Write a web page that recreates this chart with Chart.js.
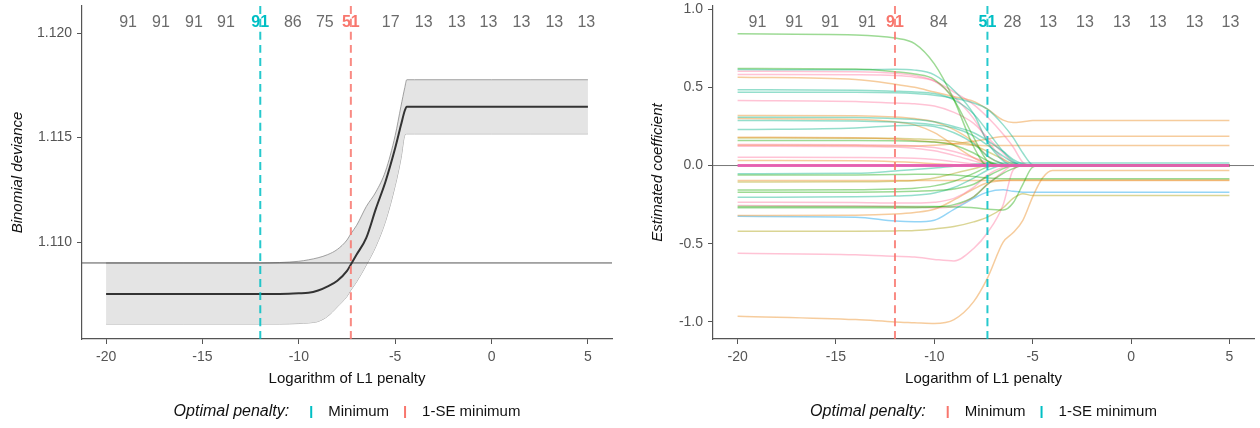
<!DOCTYPE html>
<html>
<head>
<meta charset="utf-8">
<script src="https://cdn.jsdelivr.net/npm/chart.js@4.4.0/dist/chart.umd.min.js"></script>
<style>
  html, body { margin:0; padding:0; background:#fff; }
  #wrap { display:flex; width:1260px; height:428px; }
  canvas { display:block; }
</style>
</head>
<body>
<div id="wrap">
  <canvas id="cv-dev" width="630" height="428"></canvas>
  <canvas id="cv-coef" width="630" height="428"></canvas>
</div>
<script>
/* ================================================================
   Lasso cross-validation: deviance curve (left) and
   coefficient paths (right), ggplot-ish look in Chart.js.
   ================================================================ */

'use strict';

const FONT   = "'Liberation Sans', Arial, sans-serif";
const CYAN   = '#00BFC4';
const SALMON = '#F8766D';

// ---- left panel: binomial deviance ----
const devLogLambda = [-20, -16, -12, -11, -10, -9.5, -9, -8.5, -8, -7.5, -7.3, -7, -6.5, -6, -5.5, -5, -4.7, -4.5, -4.4, -4, -2, 0, 2, 5];
const devMean  = [1.10751, 1.10751, 1.10751, 1.10752, 1.10755, 1.10757, 1.10768, 1.10788, 1.10815, 1.10862, 1.10893, 1.1094, 1.1102, 1.1116, 1.1129, 1.1145, 1.1156, 1.1163, 1.11648, 1.11648, 1.11648, 1.11648, 1.11648, 1.11648];
const devUpper = [1.1090, 1.1090, 1.1090, 1.10902, 1.10908, 1.10915, 1.10925, 1.10940, 1.10965, 1.1101, 1.1104, 1.1108, 1.1117, 1.1124, 1.1134, 1.1151, 1.1165, 1.1174, 1.11777, 1.11777, 1.11777, 1.11777, 1.11777, 1.11777];
const devLower = [1.10608, 1.10608, 1.10608, 1.10608, 1.10610, 1.10613, 1.10620, 1.10645, 1.1069, 1.1074, 1.1077, 1.1081, 1.1089, 1.1098, 1.1110, 1.1127, 1.1140, 1.11512, 1.11518, 1.11518, 1.11518, 1.11518, 1.11518, 1.11518];
const devSeLine = 1.109;
const devXTicks = [-20, -15, -10, -5, 0, 5];
const devYTicks = [1.110, 1.115, 1.120];
const devCountPos  = [-18.86, -17.15, -15.44, -13.78, -12, -10.31, -8.65, -7.3, -5.23, -3.52, -1.81, -0.16, 1.55, 3.26, 4.92];
const devCountText = ['91', '91', '91', '91', '91', '86', '75', '51', '17', '13', '13', '13', '13', '13', '13'];

// ---- optimal penalties (same for both panels) ----
const lambdaMin  = -12;
const lambdaOneSE = -7.3;

// ---- right panel: coefficient paths ----
const coefLogLambda = [-20, -14, -12, -11, -10, -9, -8, -7.3, -6.5, -6, -5.5, -5, -4.5, -4, 0, 5];
const coefXTicks = [-20, -15, -10, -5, 0, 5];
const coefYTicks = [-1.0, -0.5, 0.0, 0.5, 1.0];
const coefCountPos  = [-18.99, -17.12, -15.29, -13.42, -12, -9.78, -7.3, -6.03, -4.21, -2.34, -0.47, 1.36, 3.23, 5.05];
const coefCountText = ['91', '91', '91', '91', '91', '84', '51', '28', '13', '13', '13', '13', '13', '13'];

const greenPaths = [
  [0.842, 0.835, 0.815, 0.78, 0.65, 0.42, 0.12, 0, 0, 0, 0, 0, 0, 0, 0, 0],
  [0.62, 0.618, 0.60, 0.585, 0.55, 0.42, 0.18, 0.03, 0, 0, 0, 0, 0, 0, 0, 0],
  [0.16, 0.16, 0.158, 0.155, 0.15, 0.13, 0.08, 0.03, 0, 0, 0, 0, 0, 0, 0, 0],
  [-0.06, -0.06, -0.058, -0.056, -0.055, -0.06, -0.07, -0.08, -0.085, -0.085, -0.085, -0.085, -0.085, -0.085, -0.085, -0.085],
  [-0.156, -0.155, -0.15, -0.145, -0.13, -0.10, -0.05, -0.01, 0, 0, 0, 0, 0, 0, 0, 0],
  [-0.17, -0.17, -0.168, -0.165, -0.16, -0.15, -0.12, -0.07, -0.02, 0, 0, 0, 0, 0, 0, 0],
  [-0.262, -0.262, -0.262, -0.262, -0.262, -0.265, -0.27, -0.28, -0.285, -0.24, -0.12, -0.01, 0, 0, 0, 0],
  [-0.27, -0.27, -0.27, -0.27, -0.265, -0.25, -0.20, -0.12, -0.05, -0.02, 0, 0, 0, 0, 0, 0],
];
const tealPaths = [
  [0.614, 0.612, 0.615, 0.61, 0.58, 0.48, 0.33, 0.15, 0.03, 0, 0, 0, 0, 0, 0, 0],
  [0.484, 0.482, 0.475, 0.47, 0.46, 0.42, 0.33, 0.22, 0.09, 0.03, 0, 0, 0, 0, 0, 0],
  [0.469, 0.468, 0.465, 0.46, 0.45, 0.43, 0.40, 0.36, 0.26, 0.18, 0.08, 0.005, 0, 0, 0, 0],
  [0.309, 0.307, 0.30, 0.295, 0.28, 0.25, 0.21, 0.16, 0.09, 0.04, 0.01, 0, 0, 0, 0, 0],
  [0.288, 0.285, 0.278, 0.272, 0.26, 0.24, 0.19, 0.13, 0.06, 0.02, 0, 0, 0, 0, 0, 0],
  [0.23, 0.24, 0.255, 0.258, 0.25, 0.21, 0.14, 0.06, 0.01, 0, 0, 0, 0, 0, 0, 0],
  [-0.053, -0.05, -0.035, -0.025, -0.015, -0.005, 0.008, 0.014, 0.017, 0.017, 0.017, 0.017, 0.017, 0.017, 0.017, 0.017],
  [-0.203, -0.20, -0.195, -0.19, -0.175, -0.14, -0.08, -0.03, 0, 0, 0, 0, 0, 0, 0, 0],
];
const pinkPaths = [
  [0.603, 0.60, 0.59, 0.575, 0.54, 0.44, 0.30, 0.16, 0.04, 0, 0, 0, 0, 0, 0, 0],
  [0.582, 0.58, 0.575, 0.565, 0.54, 0.47, 0.39, 0.31, 0.20, 0.12, 0.02, 0, 0, 0, 0, 0],
  [0.416, 0.41, 0.40, 0.395, 0.38, 0.34, 0.27, 0.18, 0.08, 0.02, 0, 0, 0, 0, 0, 0],
  [0.134, 0.133, 0.13, 0.125, 0.115, 0.09, 0.05, 0.02, 0, 0, 0, 0, 0, 0, 0, 0],
  [0.123, 0.122, 0.118, 0.11, 0.095, 0.065, 0.03, 0.005, 0, 0, 0, 0, 0, 0, 0, 0],
  [0.053, 0.052, 0.05, 0.046, 0.038, 0.025, 0.01, 0, 0, 0, 0, 0, 0, 0, 0, 0],
  [-0.234, -0.236, -0.24, -0.24, -0.235, -0.21, -0.14, -0.06, -0.01, 0, 0, 0, 0, 0, 0, 0],
  [-0.256, -0.258, -0.262, -0.265, -0.27, -0.26, -0.20, -0.12, -0.04, 0, 0, 0, 0, 0, 0, 0],
  [-0.561, -0.57, -0.58, -0.585, -0.60, -0.61, -0.53, -0.43, -0.25, -0.03, 0, 0, 0, 0, 0, 0],
];
const tanPaths = [
  [0.565, 0.55, 0.52, 0.50, 0.47, 0.44, 0.41, 0.36, 0.29, 0.275, 0.28, 0.288, 0.288, 0.288, 0.288, 0.288],
  [0.32, 0.318, 0.31, 0.30, 0.28, 0.23, 0.15, 0.06, 0.01, 0, 0, 0, 0, 0, 0, 0],
  [0.30, 0.295, 0.28, 0.26, 0.21, 0.13, 0.05, 0.01, 0, 0, 0, 0, 0, 0, 0, 0],
  [0.13, 0.128, 0.125, 0.125, 0.13, 0.14, 0.155, 0.17, 0.185, 0.187, 0.187, 0.187, 0.187, 0.187, 0.187, 0.187],
  [0.181, 0.178, 0.17, 0.16, 0.15, 0.14, 0.13, 0.127, 0.128, 0.128, 0.128, 0.128, 0.128, 0.128, 0.128, 0.128],
  [0.032, 0.03, 0.025, 0.02, 0.012, 0.005, 0, 0, 0, 0, 0, 0, 0, 0, 0, 0],
  [-0.096, -0.096, -0.096, -0.096, -0.095, -0.095, -0.096, -0.096, -0.096, -0.096, -0.096, -0.096, -0.096, -0.096, -0.096, -0.096],
  [-0.32, -0.318, -0.31, -0.30, -0.28, -0.22, -0.15, -0.11, -0.095, -0.092, -0.092, -0.092, -0.092, -0.092, -0.092, -0.092],
  [-0.963, -0.985, -1.0, -1.005, -1.01, -0.985, -0.87, -0.72, -0.49, -0.43, -0.35, -0.20, -0.08, -0.032, -0.032, -0.032],
];
const olivePaths = [
  [0.176, 0.175, 0.174, 0.17, 0.165, 0.155, 0.13, 0.09, 0.04, 0.01, 0, 0, 0, 0, 0, 0],
  [-0.105, -0.104, -0.10, -0.095, -0.08, -0.05, -0.02, 0, 0, 0, 0, 0, 0, 0, 0, 0],
  [-0.42, -0.42, -0.418, -0.415, -0.405, -0.39, -0.36, -0.33, -0.27, -0.21, -0.18, -0.192, -0.192, -0.192, -0.192, -0.192],
];
const bluePaths = [
  [-0.325, -0.33, -0.355, -0.36, -0.35, -0.28, -0.21, -0.17, -0.155, -0.165, -0.17, -0.17, -0.17, -0.17, -0.17, -0.17],
];
const zeroPathX = [-20, 5];
const zeroPath  = [0, 0];

/* ---------------- plugins ---------------- */

// nonzero-coefficient counts along the top of the panel
const countLabels = {
  id: 'countLabels',
  afterDatasetsDraw(chart, args, o) {
    const { ctx } = chart, xs = chart.scales.x;
    ctx.save();
    ctx.textAlign = 'center';
    ctx.textBaseline = 'middle';
    o.pos.forEach((p, i) => {
      const hi = o.colours[i];
      ctx.font = (hi ? 'bold ' : '') + '16px ' + FONT;
      ctx.fillStyle = hi || '#6b6b6b';
      ctx.fillText(o.text[i], xs.getPixelForValue(p), 23);
    });
    ctx.restore();
  }
};

// "Optimal penalty:" legend with short vertical keys
const penaltyLegend = {
  id: 'penaltyLegend',
  afterDraw(chart, args, o) {
    const { ctx, chartArea } = chart;
    const y = 412;
    ctx.save();
    ctx.textBaseline = 'middle';
    ctx.font = 'italic 16px ' + FONT;
    const tw = ctx.measureText(o.title).width;
    ctx.font = '15px ' + FONT;
    const w = o.items.map(it => ctx.measureText(it.label).width);
    const total = tw + 22 + 17 + w[0] + 16 + 17 + w[1];
    let x = (chartArea.left + chartArea.right) / 2 - total / 2;
    ctx.font = 'italic 16px ' + FONT;
    ctx.fillStyle = '#111';
    ctx.fillText(o.title, x, y);
    x += tw;
    o.items.forEach((it, i) => {
      x += i === 0 ? 22 : 16;
      ctx.strokeStyle = it.colour;
      ctx.lineWidth = 2;
      ctx.beginPath();
      ctx.moveTo(x, y - 6);
      ctx.lineTo(x, y + 6);
      ctx.stroke();
      x += 17;
      ctx.font = '15px ' + FONT;
      ctx.fillStyle = '#111';
      ctx.fillText(it.label, x, y);
      x += w[i];
    });
    ctx.restore();
  }
};

/* ---------------- helpers ---------------- */

function pts(xs, ys) { return xs.map((x, i) => ({ x, y: ys[i] })); }

function vline(x, yMin, yMax, colour, order) {
  return { data: [{ x, y: yMin }, { x, y: yMax }], borderColor: colour, borderWidth: 2,
           borderDash: [8, 5], pointRadius: 0, fill: false, order };
}

function hline(y, xMin, xMax, colour, order) {
  return { data: [{ x: xMin, y }, { x: xMax, y }], borderColor: colour, borderWidth: 1,
           pointRadius: 0, fill: false, order };
}

function scaleOpts(o) {
  const tickFont = { family: FONT, size: 14 };
  const kill = s => { s.paddingTop = 0; s.paddingBottom = 0; s.paddingLeft = 0; s.paddingRight = 0; };
  return {
    x: {
      type: 'linear', min: o.xMin, max: o.xMax,
      afterBuildTicks: s => { s.ticks = o.xTicks.map(v => ({ value: v })); },
      afterFit: s => { s.height = 50; kill(s); },
      grid: { drawOnChartArea: false, tickLength: 5, color: '#555' },
      border: { color: '#555', width: 1.2 },
      ticks: { font: tickFont, color: '#555', padding: 5, autoSkip: false, maxRotation: 0,
               callback: v => String(v) },
      title: { display: true, text: 'Logarithm of L1 penalty', color: '#111',
               font: { family: FONT, size: 15 }, padding: { top: 0, bottom: 1 } },
    },
    y: {
      type: 'linear', min: o.yMin, max: o.yMax,
      afterBuildTicks: s => { s.ticks = o.yTicks.map(v => ({ value: v })); },
      afterFit: s => { s.width = o.yWidth; kill(s); },
      grid: { drawOnChartArea: false, tickLength: 5, color: '#555' },
      border: { color: '#555', width: 1.2 },
      ticks: { font: tickFont, color: '#555', padding: 5, callback: v => v.toFixed(o.yDigits) },
      title: { display: true, text: o.yTitle, color: '#111',
               font: { family: FONT, size: 15, style: 'italic' }, padding: { top: o.yTitlePad, bottom: 0 } },
    },
  };
}

function baseOpts(o, padRight, counts, legendItems) {
  return {
    responsive: false, animation: false, events: [],
    layout: { padding: { left: 0, right: padRight, top: 6, bottom: 39 } },
    elements: { line: { cubicInterpolationMode: 'monotone' } },
    plugins: {
      legend: { display: false }, tooltip: { enabled: false },
      countLabels: counts,
      penaltyLegend: { title: 'Optimal penalty:', items: legendItems },
    },
    scales: scaleOpts(o),
  };
}

function highlight(pos, a, b) {
  return pos.map(p => p === lambdaMin ? a : (p === lambdaOneSE ? b : null));
}

/* ---------------- left: deviance ---------------- */

const DEV_YMIN = 1.10536, DEV_YMAX = 1.1213, XMIN = -21.25, XMAX = 6.25;

new Chart(document.getElementById('cv-dev'), {
  type: 'line',
  data: {
    datasets: [
      vline(lambdaMin, DEV_YMIN, DEV_YMAX, 'rgba(0,191,196,0.85)', 0),
      vline(lambdaOneSE, DEV_YMIN, DEV_YMAX, 'rgba(248,118,109,0.85)', 1),
      { data: pts(devLogLambda, devMean), borderColor: '#333', borderWidth: 2, pointRadius: 0, fill: false, order: 2 },
      hline(devSeLine, XMIN, XMAX, '#555', 3),
      { data: pts(devLogLambda, devUpper), borderColor: '#8a8a8a', borderWidth: 0.8, pointRadius: 0,
        backgroundColor: '#e4e4e4', fill: '+1', order: 4 },
      { data: pts(devLogLambda, devLower), borderColor: '#8a8a8a', borderWidth: 0.8, pointRadius: 0, fill: false, order: 5 },
    ]
  },
  options: baseOpts(
    { xMin: XMIN, xMax: XMAX, yMin: DEV_YMIN, yMax: DEV_YMAX, xTicks: devXTicks, yTicks: devYTicks,
      yWidth: 82, yDigits: 3, yTitle: 'Binomial deviance', yTitlePad: 9 },
    18,
    { pos: devCountPos, text: devCountText, colours: highlight(devCountPos, CYAN, SALMON) },
    [{ label: 'Minimum', colour: CYAN }, { label: '1-SE minimum', colour: SALMON }]
  ),
  plugins: [countLabels, penaltyLegend],
});

/* ---------------- right: coefficient paths ---------------- */

const COEF_YMIN = -1.109, COEF_YMAX = 1.02;

const pathGroups = [
  [greenPaths, 'rgba(22,166,0,0.42)'],
  [tealPaths,  'rgba(0,177,133,0.42)'],
  [pinkPaths,  'rgba(255,111,155,0.42)'],
  [tanPaths,   'rgba(233,133,22,0.42)'],
  [olivePaths, 'rgba(166,155,0,0.42)'],
  [bluePaths,  'rgba(0,155,233,0.42)'],
];

const coefSets = [
  vline(lambdaMin, COEF_YMIN, COEF_YMAX, 'rgba(248,118,109,0.85)', 0),
  vline(lambdaOneSE, COEF_YMIN, COEF_YMAX, 'rgba(0,191,196,0.85)', 1),
  { data: pts(zeroPathX, zeroPath), borderColor: 'rgba(232,96,178,0.95)', borderWidth: 3, pointRadius: 0, fill: false, order: 2 },
];
pathGroups.forEach(([paths, colour]) => {
  paths.forEach(p => coefSets.push({ data: pts(coefLogLambda, p), borderColor: colour, borderWidth: 1.5,
                                      pointRadius: 0, fill: false, order: 3 }));
});
coefSets.push(hline(0, XMIN, XMAX, '#777', 10));

new Chart(document.getElementById('cv-coef'), {
  type: 'line',
  data: { datasets: coefSets },
  options: baseOpts(
    { xMin: XMIN, xMax: XMAX, yMin: COEF_YMIN, yMax: COEF_YMAX, xTicks: coefXTicks, yTicks: coefYTicks,
      yWidth: 83, yDigits: 1, yTitle: 'Estimated coefficient', yTitlePad: 19 },
    6,
    { pos: coefCountPos, text: coefCountText, colours: highlight(coefCountPos, SALMON, CYAN) },
    [{ label: 'Minimum', colour: SALMON }, { label: '1-SE minimum', colour: CYAN }]
  ),
  plugins: [countLabels, penaltyLegend],
});
</script>
</body>
</html>
